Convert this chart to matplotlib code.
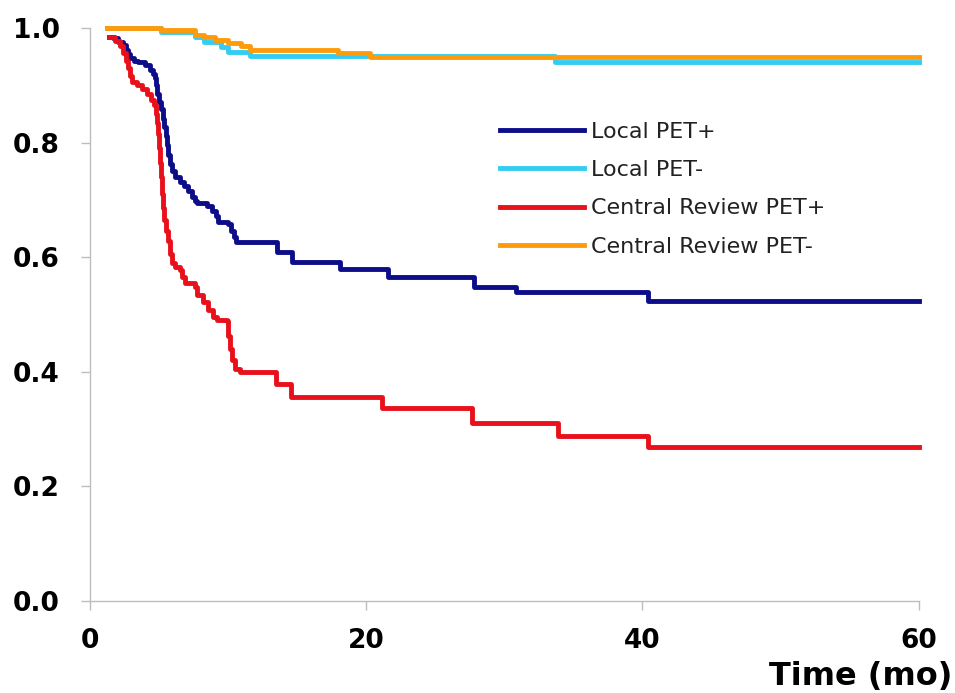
import matplotlib
matplotlib.use("Agg")
import matplotlib.pyplot as plt

# ---- data (months, survival probability) ----
local_pos_t = [1.41, 1.70, 2.06, 2.42, 2.64, 2.79, 2.93, 3.22, 3.51, 4.02, 4.38, 4.59, 4.74, 4.81,
               4.88, 5.03, 5.17, 5.32, 5.39, 5.54, 5.61, 5.68, 5.82, 5.97, 6.19, 6.55, 6.84, 7.13,
               7.42, 7.63, 7.78, 8.50, 8.86, 9.15, 9.30, 10.02, 10.24, 10.46, 10.60, 13.6, 14.65,
               18.1, 21.6, 27.8, 30.9, 40.4, 60]
local_pos_s = [0.985, 0.982, 0.976, 0.970, 0.962, 0.955, 0.948, 0.943, 0.940, 0.935, 0.927, 0.920,
               0.912, 0.900, 0.885, 0.870, 0.858, 0.842, 0.828, 0.812, 0.795, 0.778, 0.762, 0.750,
               0.740, 0.731, 0.725, 0.716, 0.705, 0.698, 0.695, 0.690, 0.680, 0.672, 0.662, 0.658,
               0.645, 0.635, 0.627, 0.609, 0.592, 0.580, 0.565, 0.548, 0.539, 0.523, 0.523]

local_neg_t = [1.3, 5.2, 7.6, 8.3, 9.5, 10.0, 11.6, 33.7, 60]
local_neg_s = [1.0, 0.993, 0.985, 0.975, 0.967, 0.958, 0.951, 0.94, 0.94]

central_pos_t = [1.41, 1.85, 2.21, 2.42, 2.64, 2.79, 2.93, 3.08, 3.44, 3.80, 4.16, 4.45, 4.67, 4.81,
                 4.88, 4.96, 5.03, 5.10, 5.17, 5.25, 5.32, 5.39, 5.54, 5.68, 5.82, 5.97, 6.19, 6.55,
                 6.69, 6.91, 7.63, 7.78, 8.21, 8.57, 8.94, 9.23, 9.95, 10.02, 10.17, 10.31, 10.53,
                 10.89, 13.5, 14.6, 21.2, 27.7, 33.9, 40.4, 60]
central_pos_s = [0.984, 0.978, 0.968, 0.956, 0.943, 0.930, 0.916, 0.906, 0.900, 0.894, 0.884, 0.874,
                 0.866, 0.850, 0.835, 0.815, 0.790, 0.765, 0.740, 0.710, 0.685, 0.665, 0.645, 0.628,
                 0.605, 0.590, 0.583, 0.578, 0.566, 0.555, 0.548, 0.534, 0.522, 0.508, 0.495, 0.490,
                 0.488, 0.462, 0.440, 0.420, 0.405, 0.400, 0.379, 0.356, 0.337, 0.311, 0.288, 0.269,
                 0.269]

central_neg_t = [1.3, 5.2, 7.6, 8.3, 9.05, 10.0, 11.0, 11.6, 18.0, 20.3, 60]
central_neg_s = [1.0, 0.996, 0.988, 0.984, 0.979, 0.974, 0.969, 0.962, 0.956, 0.949, 0.949]

labels = ["Local PET+", "Local PET-", "Central Review PET+", "Central Review PET-"]
colors = ["#0d0d8a", "#33ccf2", "#e8101a", "#ff9a0a"]
x_ticks = [0, 20, 40, 60]
y_ticks = [0.0, 0.2, 0.4, 0.6, 0.8, 1.0]
x_label = "Time (mo)"

series = [(local_pos_t, local_pos_s), (local_neg_t, local_neg_s),
          (central_pos_t, central_pos_s), (central_neg_t, central_neg_s)]

fig = plt.figure(figsize=(9.55, 6.93), dpi=100)
ax = fig.add_axes([89.5 / 955, 92 / 693, 829 / 955, 573 / 693])

for (t, s), lab, c in zip(series, labels, colors):
    ax.plot(t, s, drawstyle="steps-post", color=c, lw=3.5, label=lab,
            solid_joinstyle="round", clip_on=False)

ax.set_xlim(0, 60)
ax.set_ylim(0, 1.0)
ax.set_xticks(x_ticks)
ax.set_yticks(y_ticks)
ax.set_xticklabels([str(v) for v in x_ticks])
ax.set_yticklabels([f"{v:.1f}" for v in y_ticks])

for side in ("top", "right"):
    ax.spines[side].set_visible(False)
for side in ("left", "bottom"):
    ax.spines[side].set_color("#bdbdbd")
    ax.spines[side].set_linewidth(1.0)

ax.tick_params(axis="both", direction="out", length=6.5, width=1.0, color="#bdbdbd",
               labelsize=19)
ax.tick_params(axis="y", pad=15)
ax.tick_params(axis="x", pad=13)
for lbl in ax.get_xticklabels() + ax.get_yticklabels():
    lbl.set_fontweight("bold")
    lbl.set_family("DejaVu Sans")

fig.text(0.997, 0.024, x_label, ha="right", va="center", fontsize=23,
         fontweight="bold", family="DejaVu Sans")

leg = ax.legend(loc="upper left", bbox_to_anchor=(0.495, 0.836), frameon=False,
                fontsize=16, handlelength=3.8, handletextpad=0.28, labelspacing=0.82,
                borderpad=0, borderaxespad=0)
for txt in leg.get_texts():
    txt.set_color("#222222")
for h in leg.get_lines():
    h.set_linewidth(3.5)

fig.savefig("out.png", dpi=100)
